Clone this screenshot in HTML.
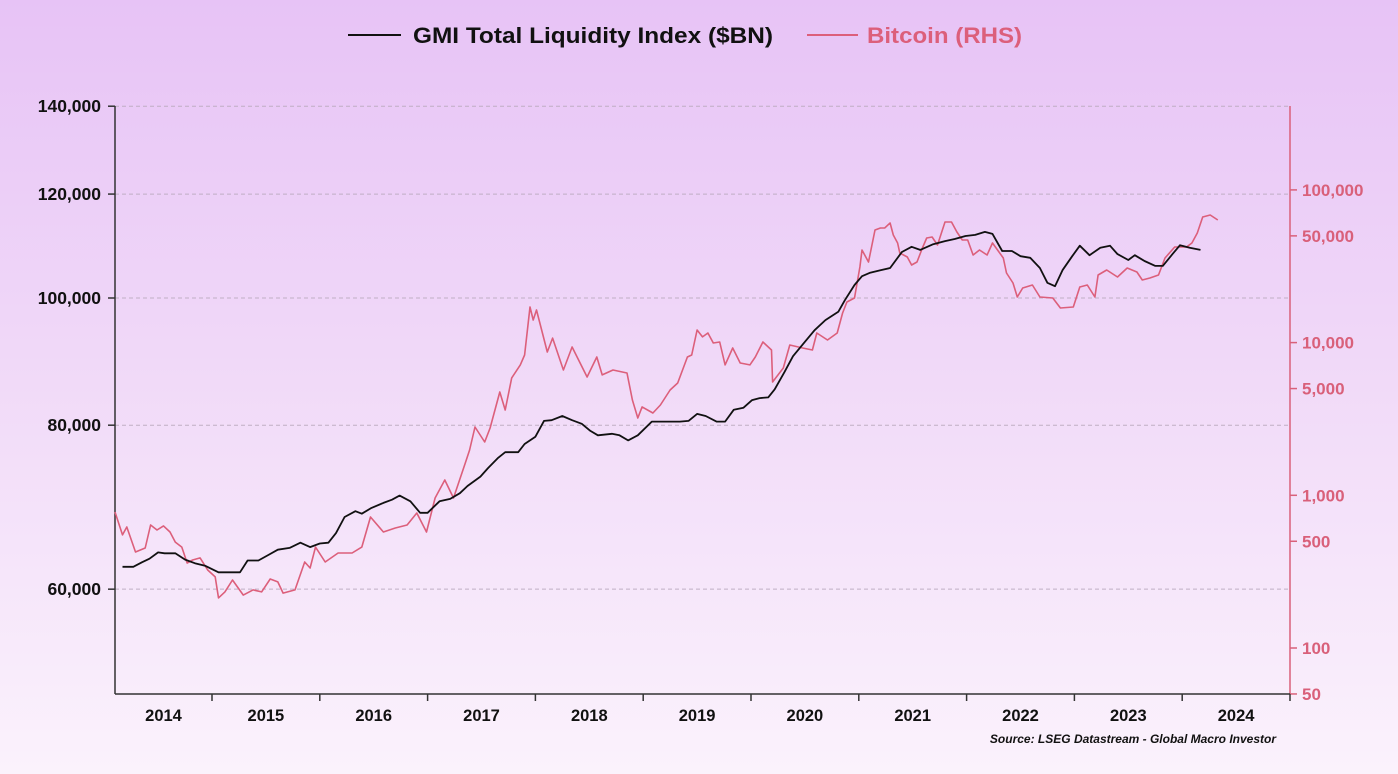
<!DOCTYPE html>
<html><head><meta charset="utf-8">
<style>
html,body{margin:0;padding:0;}
body{width:1398px;height:774px;overflow:hidden;background:linear-gradient(180deg,#e7c3f6 0%,#f0d8f8 45%,#fbf2fc 100%);font-family:"Liberation Sans",Arial,sans-serif;}
svg{position:absolute;left:0;top:0;}
</style></head>
<body>
<svg id="chart" width="1398" height="774"></svg>
<script>
// ---- data ----
const liqDates=[2014.17,2014.27,2014.35,2014.42,2014.50,2014.56,2014.66,2014.75,2014.84,2014.94,2015.06,2015.17,2015.26,2015.33,2015.43,2015.52,2015.61,2015.72,2015.82,2015.91,2016.00,2016.08,2016.15,2016.23,2016.33,2016.39,2016.48,2016.59,2016.67,2016.74,2016.84,2016.93,2017.00,2017.11,2017.21,2017.30,2017.37,2017.49,2017.56,2017.65,2017.72,2017.84,2017.90,2018.00,2018.08,2018.15,2018.25,2018.34,2018.43,2018.51,2018.58,2018.71,2018.78,2018.86,2018.95,2019.08,2019.19,2019.34,2019.42,2019.50,2019.58,2019.68,2019.76,2019.84,2019.93,2020.01,2020.08,2020.16,2020.22,2020.31,2020.39,2020.50,2020.59,2020.69,2020.81,2020.87,2020.96,2021.03,2021.10,2021.20,2021.29,2021.40,2021.49,2021.57,2021.69,2021.80,2021.89,2021.99,2022.08,2022.17,2022.24,2022.33,2022.42,2022.50,2022.59,2022.68,2022.75,2022.82,2022.89,2022.98,2023.05,2023.14,2023.24,2023.33,2023.40,2023.50,2023.56,2023.65,2023.75,2023.82,2023.91,2023.98,2024.07,2024.17];
const liqValues=[62400,62400,62900,63300,64000,63900,63900,63200,62800,62500,61800,61800,61800,63100,63100,63700,64300,64500,65100,64600,65000,65100,66200,68100,68800,68500,69200,69800,70200,70700,70000,68600,68600,70000,70300,71000,71900,73100,74200,75500,76300,76300,77400,78400,80600,80700,81300,80700,80200,79200,78600,78800,78600,77900,78600,80500,80500,80500,80600,81600,81300,80500,80500,82200,82500,83600,83900,84000,85200,87800,90300,92600,94500,96200,97600,99600,102300,103900,104500,105000,105400,108400,109400,108800,109900,110500,110900,111500,111700,112300,111900,108600,108600,107600,107300,105400,102700,102100,105000,107600,109600,107800,109200,109600,108000,106900,107800,106700,105800,105800,108000,109700,109200,108800];
const btcDates=[2014.10,2014.17,2014.21,2014.29,2014.38,2014.43,2014.49,2014.55,2014.61,2014.66,2014.72,2014.77,2014.82,2014.89,2014.96,2015.03,2015.06,2015.12,2015.19,2015.29,2015.38,2015.46,2015.54,2015.61,2015.66,2015.77,2015.86,2015.91,2015.96,2016.05,2016.17,2016.30,2016.39,2016.47,2016.59,2016.70,2016.81,2016.90,2016.99,2017.07,2017.16,2017.24,2017.35,2017.39,2017.44,2017.53,2017.58,2017.67,2017.72,2017.78,2017.86,2017.90,2017.95,2017.98,2018.01,2018.11,2018.16,2018.26,2018.34,2018.41,2018.48,2018.57,2018.62,2018.72,2018.85,2018.90,2018.95,2018.99,2019.09,2019.16,2019.25,2019.32,2019.41,2019.45,2019.50,2019.55,2019.60,2019.65,2019.71,2019.76,2019.83,2019.90,2019.99,2020.04,2020.11,2020.19,2020.20,2020.30,2020.36,2020.48,2020.57,2020.61,2020.71,2020.80,2020.85,2020.89,2020.96,2021.01,2021.03,2021.09,2021.15,2021.20,2021.24,2021.29,2021.32,2021.36,2021.38,2021.45,2021.49,2021.54,2021.59,2021.63,2021.68,2021.73,2021.80,2021.86,2021.91,2021.96,2022.01,2022.06,2022.12,2022.19,2022.24,2022.34,2022.37,2022.43,2022.47,2022.52,2022.61,2022.68,2022.80,2022.87,2022.99,2023.05,2023.12,2023.19,2023.22,2023.30,2023.40,2023.49,2023.58,2023.63,2023.70,2023.78,2023.84,2023.93,2024.04,2024.09,2024.14,2024.19,2024.26,2024.33];
const btcValues=[777,550,620,425,452,639,593,630,575,494,458,360,377,389,324,292,213,233,279,222,240,233,283,271,229,240,366,334,458,366,419,419,458,721,575,611,639,766,575,960,1260,960,1628,1980,2800,2234,2760,4750,3620,5870,7140,8300,17100,14060,16350,8680,10700,6620,9360,7460,5950,8050,6140,6620,6320,4210,3210,3790,3460,3900,4890,5440,8050,8300,12090,10890,11560,9940,10090,7140,9220,7350,7140,8050,10090,8950,5520,6820,9640,9220,8950,11560,10400,11560,15630,18450,19600,31270,40420,33730,54630,56300,56300,60730,50670,44920,38630,36360,32230,33730,41650,48440,49170,43580,61660,61660,53030,46990,46990,37490,40420,37490,44920,35820,28580,24570,19900,22790,23850,19900,19600,16850,17100,23130,23850,19900,27720,29900,26900,30800,29000,25700,26500,27720,35820,42280,42280,44920,52230,66470,68500,63530];
const leftTicks=[60000,80000,100000,120000,140000];
const rightTicks=[50,100,500,1000,5000,10000,50000,100000];
const yearLabels=[2014,2015,2016,2017,2018,2019,2020,2021,2022,2023,2024];

// ---- scales ----
const X0=115,X1=1290,Y0=106,Y1=694;
const xs=t=>212+(t-2015)*107.8;
const yl=v=>298-570*Math.log(v/100000);
const yr=v=>648-152.7*(Math.log10(v)-2);
const NS='http://www.w3.org/2000/svg';
const svg=document.getElementById('chart');
function mk(tag,attrs,parent){const e=document.createElementNS(NS,tag);for(const k in attrs)e.setAttribute(k,attrs[k]);(parent||svg).appendChild(e);return e;}
const fmt=v=>v.toLocaleString('en-US');

// grid + left ticks
leftTicks.forEach(v=>{
  const y=yl(v);
  const g=mk('line',{x1:X0,x2:X1,y1:y,y2:y,stroke:'#bfaec4','stroke-width':1,'stroke-dasharray':'4,3'});
  
  
  mk('line',{x1:108,x2:X0,y1:y,y2:y,stroke:'#333','stroke-width':1.5});
  const t=mk('text',{x:101,y:y+6,'text-anchor':'end','font-size':17.5,'font-weight':'bold',fill:'#111'});
  t.textContent=fmt(v);
  
  
});
// right ticks
rightTicks.forEach(v=>{
  const y=yr(v);
  mk('line',{x1:X1,x2:1297,y1:y,y2:y,stroke:'#d9607a','stroke-width':1.5});
  const t=mk('text',{x:1302,y:y+6,'font-size':17,'font-weight':'bold',fill:'#d9607a'});
  t.textContent=fmt(v);
  
  
});
// axes
let a=mk('line',{x1:X0,x2:X0,y1:Y0,y2:Y1,stroke:'#333','stroke-width':1.5});

a=mk('line',{x1:X1,x2:X1,y1:Y0,y2:Y1,stroke:'#d9607a','stroke-width':1.5});

a=mk('line',{x1:X0,x2:X1,y1:Y1,y2:Y1,stroke:'#333','stroke-width':1.5});

yearLabels.forEach(yr0=>{
  const xa=Math.max(X0,xs(yr0)),xb=Math.min(X1,xs(yr0+1));
  mk('line',{x1:xs(yr0+1),x2:xs(yr0+1),y1:Y1,y2:701,stroke:'#333','stroke-width':1.5});
  const t=mk('text',{x:(xa+xb)/2,y:721,'text-anchor':'middle','font-size':16.5,'font-weight':'bold',fill:'#111'});
  t.textContent=yr0;
  
  
});
// series
const btcPts=btcDates.map((d,i)=>xs(d).toFixed(1)+','+yr(btcValues[i]).toFixed(1)).join(' ');
const bl=mk('polyline',{points:btcPts,fill:'none',stroke:'#dc5f7b','stroke-width':1.6,'stroke-linejoin':'round'});


const liqPts=liqDates.map((d,i)=>xs(d).toFixed(1)+','+yl(liqValues[i]).toFixed(1)).join(' ');
const ll=mk('polyline',{points:liqPts,fill:'none',stroke:'#111','stroke-width':1.8,'stroke-linejoin':'round'});



// legend
let l=mk('line',{x1:348,x2:401,y1:35,y2:35,stroke:'#111','stroke-width':2});

let lt=mk('text',{x:413,y:43,'font-size':22,'font-weight':'bold',fill:'#111',textLength:360,lengthAdjust:'spacingAndGlyphs'});
lt.textContent='GMI Total Liquidity Index ($BN)';

l=mk('line',{x1:807,x2:858,y1:35,y2:35,stroke:'#dc5f7b','stroke-width':2});

lt=mk('text',{x:867,y:43,'font-size':22,'font-weight':'bold',fill:'#dc5f7b',textLength:155,lengthAdjust:'spacingAndGlyphs'});
lt.textContent='Bitcoin (RHS)';

// source
const s=mk('text',{x:1276,y:743,'text-anchor':'end','font-size':12,'font-weight':'bold','font-style':'italic',fill:'#111'});
s.textContent='Source: LSEG Datastream - Global Macro Investor';

</script>
</body></html>
